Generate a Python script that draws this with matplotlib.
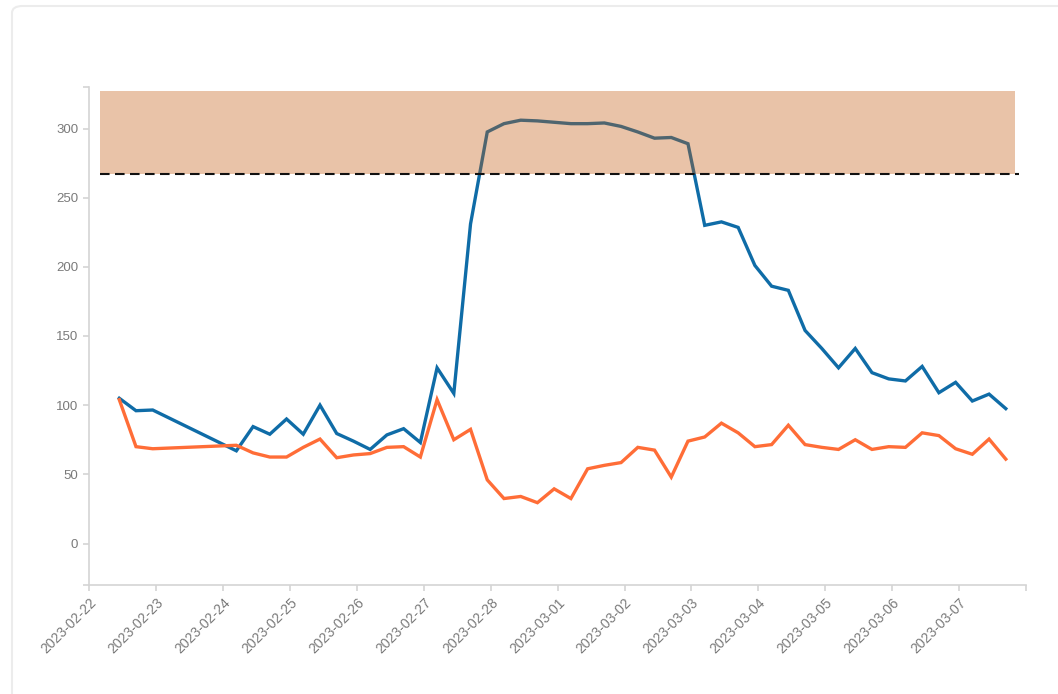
import matplotlib
matplotlib.use("Agg")
import matplotlib.pyplot as plt
import matplotlib.dates as mdates
from matplotlib.patches import FancyBboxPatch
import pandas as pd
import numpy as np

plt.rcParams['font.family'] = ['Liberation Sans', 'DejaVu Sans']

# ---- data ----
all_times = pd.date_range("2023-02-22 10:45", periods=54, freq="6h")
missing_idx = [3, 4, 5, 6]
times = all_times.delete(missing_idx)

series_blue = [105, 96, 96.5,
               67, 84.5, 79, 90, 79, 100, 79.5, 74, 68, 78.5, 83, 73, 127, 108.5,
               231, 297.5, 303.5, 306, 305.5, 304.5, 303.5, 303.5, 304, 301.5, 297.5,
               293, 293.5, 289, 230, 232.5, 228.5, 201, 186, 183, 154, 141, 127, 141,
               123.5, 119, 117.5, 128, 109, 116.5, 103, 108, 97.5]
series_orange = [104, 70, 68.5,
                 71, 65.5, 62.5, 62.5, 69.5, 75.5, 62, 64, 65, 69.5, 70, 62.5, 104, 75,
                 82.5, 46, 32.5, 34, 29.5, 39.5, 32.5, 54, 56.5, 58.5, 69.5, 67.5, 48,
                 74, 77, 87, 80, 70, 71.5, 85.5, 71.5, 69.5, 68, 75, 68, 70, 69.5, 80,
                 78, 68.5, 64.5, 75.5, 61]

threshold = 267
band_top = 327
band_start = pd.Timestamp("2023-02-22 04:00")
band_end = pd.Timestamp("2023-03-07 20:00")
line_end = pd.Timestamp("2023-03-07 21:30")

y_ticks = [0, 50, 100, 150, 200, 250, 300]
y_min, y_max = -30, 330
x_min, x_max = pd.Timestamp("2023-02-22"), pd.Timestamp("2023-03-08")
x_ticks = pd.date_range("2023-02-22", "2023-03-07", freq="D")

# ---- figure ----
W, H = 1058, 694
fig = plt.figure(figsize=(W / 100, H / 100), dpi=100)
ax = fig.add_axes([89.3 / W, 1 - 585 / H, (1026 - 89.3) / W, (585 - 87) / H])

# outer frame
frame = FancyBboxPatch((12 / W, -0.1), 1.2, 1 - 6 / H + 0.1,
                       boxstyle="round,pad=0,rounding_size=0.01",
                       transform=fig.transFigure, fill=False,
                       edgecolor="#ececec", linewidth=1.5, zorder=0)
fig.patches.append(frame)

blue = "#0f6ca7"
orange = "#ff6d37"
ax.plot(times, series_blue, color=blue, lw=2.4, solid_joinstyle="miter", zorder=3)
ax.plot(times, series_orange, color=orange, lw=2.4, solid_joinstyle="miter", zorder=3)

# band on top (semi-transparent)
ax.fill_between([band_start, band_end], threshold, band_top,
                color="#c35a0e", alpha=0.36, lw=0, zorder=4)
ax.plot([band_start, line_end], [threshold, threshold], color="#111111",
        lw=1.5, dashes=(4.6, 2.6), zorder=5)

ax.set_xlim(x_min, x_max)
ax.set_ylim(y_min, y_max)

# ticks incl. outer ticks at domain ends
ax.set_yticks([y_min] + y_ticks + [y_max])
ax.set_yticklabels([""] + [str(v) for v in y_ticks] + [""])
xt = list(x_ticks) + [x_max]
ax.set_xticks(xt)
ax.set_xticklabels([d.strftime("%Y-%m-%d") for d in x_ticks] + [""],
                   rotation=45, ha="right", va="top", rotation_mode="anchor")

for s in ["top", "right"]:
    ax.spines[s].set_visible(False)
for s in ["left", "bottom"]:
    ax.spines[s].set_color("#d4d4d4")
    ax.spines[s].set_linewidth(1.2)
ax.tick_params(axis="both", colors="#d4d4d4", length=4.5, width=1.2,
               labelcolor="#7a7a7a")
ax.tick_params(axis="y", pad=3.5, labelsize=9.5)
ax.tick_params(axis="x", pad=3, labelsize=10)

fig.savefig("out.png", dpi=100, facecolor="white")
